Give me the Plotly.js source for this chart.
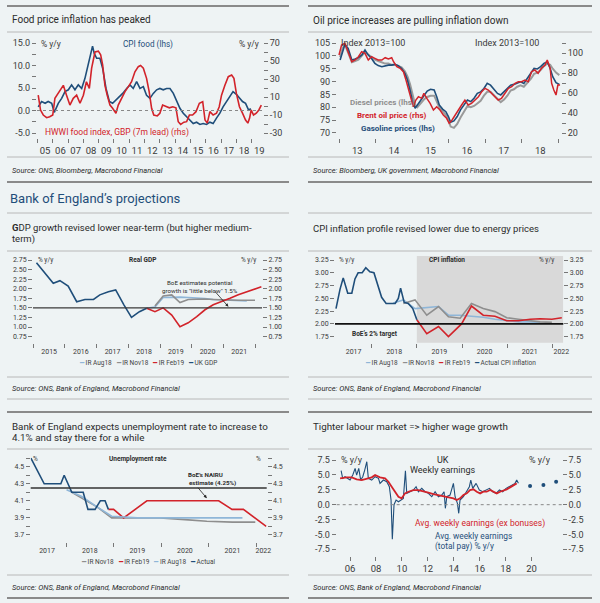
<!DOCTYPE html>
<html><head><meta charset="utf-8">
<script src="https://cdn.plot.ly/plotly-3.0.1.min.js"></script>
<style>html,body{margin:0;padding:0;background:#eef3f4}#chart{width:600px;height:603px}</style>
</head><body><div id="chart"></div>
<script>
// ---------- Panel 1: food price inflation ----------
const FOOD_TICKS=[2005.5,2006.5,2007.5,2008.5,2009.5,2010.5,2011.5,2012.5,2013.5,2014.5,2015.5,2016.5,2017.5,2018.5,2019.5];
const FOOD_LABELS=['05','06','07','08','09','10','11','12','13','14','15','16','17','18','19'];
const FOOD_L_TICKS=[-5,0,5,10,15];
const FOOD_L_LABELS=['-5.0','0.0','5.0','10.0','15.0'];
const FOOD_R_TICKS=[-30,-10,10,30,50,70];
const FOOD_R_LABELS=['-30','-10','10','30','50','70'];
const foodCpiT=[2005.05,2005.27,2005.5,2005.7,2005.93,2006.1,2006.36,2006.58,2006.8,2007.02,2007.23,2007.45,2007.67,2007.89,2008.1,2008.32,2008.5,2008.6,2008.71,2008.87,2009.08,2009.26,2009.48,2009.7,2009.91,2010.13,2010.35,2010.57,2010.83,2011.05,2011.26,2011.48,2011.7,2011.92,2012.13,2012.35,2012.57,2012.79,2013.0,2013.22,2013.44,2013.66,2013.88,2014.1,2014.31,2014.53,2014.75,2014.97,2015.18,2015.4,2015.62,2015.83,2016.05,2016.27,2016.48,2016.7,2016.92,2017.13,2017.35,2017.56,2017.78,2018.0,2018.2,2018.4,2018.6,2018.8,2018.95];
const foodCpiV=[0.8,2.0,1.6,2.0,1.6,-0.4,1.6,2.7,4.2,4.6,5.7,4.6,5.7,4.9,7.1,10.1,12.7,14.3,12.7,11.6,11.6,9.4,4.9,2.0,1.6,2.3,3.1,3.8,4.9,5.7,4.9,6.4,4.9,5.3,3.4,2.7,3.8,4.6,4.9,4.6,4.9,4.9,3.8,2.3,0.5,-0.6,-1.4,-2.3,-2.9,-2.6,-3.1,-2.9,-3.1,-2.6,-2.9,-1.7,-0.6,0.8,2.0,3.1,4.2,3.6,2.7,2.0,1.6,0.1,0.4];
const foodHwwiT=[2005.05,2005.2,2005.38,2005.6,2005.8,2006.0,2006.14,2006.36,2006.58,2006.69,2006.9,2007.12,2007.34,2007.56,2007.78,2008.0,2008.2,2008.39,2008.54,2008.76,2008.98,2009.13,2009.26,2009.41,2009.56,2009.74,2009.91,2010.13,2010.28,2010.5,2010.72,2010.94,2011.15,2011.37,2011.59,2011.74,2011.92,2012.13,2012.3,2012.46,2012.6,2012.83,2013.0,2013.18,2013.4,2013.62,2013.84,2014.05,2014.2,2014.36,2014.57,2014.75,2014.93,2015.14,2015.36,2015.58,2015.8,2015.95,2016.1,2016.27,2016.48,2016.7,2016.88,2017.03,2017.25,2017.47,2017.69,2017.84,2018.0,2018.2,2018.4,2018.6,2018.75,2018.86,2018.97,2019.12,2019.3,2019.47,2019.63];
const foodHwwiV=[12,-4.5,-10,-13,-12,-10,8.5,14,19.6,23,12,1,8.5,12,3,12,27,19.6,42,60,61,57,45.6,23,12,1,-2.6,-8,1,8.5,16,21.5,27,38,43.7,45,42,30.7,16,-2.6,-10,-11,-8,1,-0.8,-2,-0.8,-2,-17.4,-20.4,-18,-17.4,-10,-10,-6.3,3,4.8,-15.6,-19,-6.3,-10,-8,-0.8,12,23,32.6,34.4,30.7,14,-0.8,-8,-15.6,-19,-13.7,-4.4,-10,-8,-4.4,1];

// ---------- Panel 2: oil ----------
const OIL_TICKS=[2013.5,2014.5,2015.5,2016.5,2017.5,2018.5];
const OIL_LABELS=['13','14','15','16','17','18'];
const oilT=[2013.03,2013.1,2013.16,2013.25,2013.35,2013.44,2013.53,2013.62,2013.71,2013.8,2013.89,2013.98,2014.07,2014.17,2014.26,2014.35,2014.44,2014.53,2014.62,2014.71,2014.8,2014.87,2014.94,2015.01,2015.08,2015.14,2015.23,2015.32,2015.41,2015.5,2015.6,2015.67,2015.74,2015.83,2015.92,2015.99,2016.05,2016.14,2016.23,2016.32,2016.42,2016.51,2016.6,2016.69,2016.78,2016.87,2016.96,2017.05,2017.14,2017.24,2017.33,2017.42,2017.51,2017.6,2017.69,2017.78,2017.87,2017.96,2018.05,2018.15,2018.24,2018.33,2018.42,2018.51,2018.6,2018.69,2018.77,2018.84,2018.93,2019.02];
const gasolineV=[98.4,101.6,104.4,102.9,98.4,98.8,99.3,100.3,102.3,100.3,99.0,97.1,96.2,95.8,96.2,96.4,96.4,96.7,96.2,95.1,93.2,90.6,86.7,82.2,79.6,80.9,82.8,84.8,86.3,87.0,86.7,84.1,80.9,79.3,78.3,76.4,74.2,74.7,76.4,79.0,80.9,82.8,82.2,83.5,85.4,86.0,87.3,89.3,88.6,86.7,85.4,84.8,86.0,87.3,88.6,88.9,89.3,89.9,89.3,91.2,93.2,95.1,94.9,95.8,97.1,97.7,95.1,91.9,89.6,88.9];
const dieselV=[99.5,103,104.5,101,97.5,98,98.5,100,101.5,100.5,99.5,98.5,98,97.5,97,97,96.5,96.5,96,95.5,94,92,89,85,81,80,81.5,83,84,84.5,84.5,82.5,80,78.5,77,75,72.5,72,73.5,76,78.5,80.5,80,80.5,81.5,82.5,84.5,86,86,84.5,83,82,83,84.5,86.5,87,88,88.5,88,89.5,91,93,93.5,94.5,96,97,96.5,95,93.5,92.5];
const brentT=[2013.0,2013.07,2013.16,2013.25,2013.35,2013.44,2013.53,2013.62,2013.71,2013.8,2013.89,2013.98,2014.07,2014.17,2014.26,2014.35,2014.44,2014.49,2014.58,2014.67,2014.76,2014.83,2014.89,2014.96,2015.03,2015.1,2015.17,2015.26,2015.32,2015.4,2015.49,2015.58,2015.67,2015.76,2015.85,2015.94,2016.01,2016.09,2016.17,2016.26,2016.35,2016.44,2016.53,2016.62,2016.72,2016.81,2016.9,2016.99,2017.08,2017.17,2017.26,2017.35,2017.44,2017.54,2017.63,2017.72,2017.81,2017.9,2017.99,2018.08,2018.17,2018.26,2018.35,2018.44,2018.53,2018.63,2018.69,2018.77,2018.81,2018.87,2018.93,2018.98,2019.04];
const brentV=[98,108,109.7,101.3,91.3,93,96.3,101.3,99.7,93,96.3,94.7,93,93,95.3,94,95.3,91.3,86.3,84.7,81.3,73,64.7,54.7,46.3,53,56.3,54.7,59.7,54.7,49.7,43,46.3,43,38,34.7,29.7,33,38,43,48,53,48,49.7,53,56.3,61.3,64.7,63,59.7,56.3,53,54.7,59.7,64.7,66.3,69.7,71.3,71.3,73,71.3,81.3,83,79.7,84.7,88,93,84.7,69.7,63,58,68,68];

// ---------- Panel 3: GDP ----------
const GDP_TICKS=[2015.5,2016.5,2017.5,2018.5,2019.5,2020.5,2021.5];
const GDP_LABELS=['2015','2016','2017','2018','2019','2020','2021'];
const gdpT=[2015.1,2015.63,2015.84,2016.1,2016.37,2016.63,2016.9,2017.1,2017.37,2017.6,2017.86,2018.1,2018.35,2018.58];
const gdpV=[2.68,2.14,2.21,2.07,1.66,1.72,1.72,1.84,1.92,1.97,1.58,1.25,1.40,1.49];
const gdpAugT=[2018.58,2018.84,2019.1,2019.37,2019.63,2019.89,2020.16,2020.42,2020.68,2020.95,2021.21,2021.47,2021.74];
const gdpAugV=[1.49,1.52,1.77,1.78,1.78,1.77,1.76,1.74,1.72,1.71,1.70,1.69,1.68];
const gdpNovT=[2018.84,2019.1,2019.37,2019.63,2019.89,2020.16,2020.42,2020.68,2020.95,2021.21,2021.47,2021.74,2022.0];
const gdpNovV=[1.55,1.81,1.84,1.64,1.72,1.73,1.73,1.72,1.71,1.71,1.70,1.70,1.70];
const gdpFebT=[2018.58,2018.84,2019.1,2019.37,2019.63,2019.89,2020.16,2020.42,2020.68,2020.95,2021.21,2021.47,2021.74,2022.0,2022.2];
const gdpFebV=[1.49,1.40,1.50,1.31,1.01,1.11,1.27,1.45,1.58,1.66,1.75,1.84,1.92,1.98,2.05];
const GDP_POTENTIAL=1.5;

// ---------- Panel 4: CPI ----------
const CPI_TICKS=[2017.6,2018.5,2019.5,2020.5,2021.5,2022.2];
const CPI_LABELS=['2017','2018','2019','2020','2021','2022'];
const cpiActT=[2017.21,2017.30,2017.37,2017.47,2017.56,2017.63,2017.70,2017.79,2017.87,2017.96,2018.05,2018.13,2018.22,2018.32,2018.41,2018.52,2018.59,2018.64,2018.72,2018.81,2018.91,2019.0];
const cpiActV=[2.30,2.68,2.90,2.60,2.60,2.88,3.00,3.00,3.10,3.02,3.00,2.75,2.52,2.40,2.40,2.40,2.50,2.70,2.42,2.40,2.30,2.08];
const cpiAugT=[2018.48,2018.70,2018.96,2019.22,2019.48,2019.70,2019.96,2020.21,2020.47,2020.73,2020.99,2021.25,2021.51,2021.73];
const cpiAugV=[2.41,2.47,2.30,2.32,2.34,2.17,2.17,2.15,2.13,2.09,2.06,2.04,2.04,2.03];
const cpiNovT=[2018.70,2018.96,2019.22,2019.48,2019.70,2019.96,2020.21,2020.47,2020.73,2020.99,2021.25,2021.51,2021.73,2021.99];
const cpiNovV=[2.40,2.47,2.17,2.34,2.14,2.11,2.40,2.30,2.24,2.12,2.09,2.06,2.04,2.03];
const cpiFebT=[2019.0,2019.22,2019.48,2019.70,2019.99,2020.21,2020.47,2020.73,2020.99,2021.25,2021.51,2021.73,2021.99,2022.21];
const cpiFebV=[2.08,1.81,1.95,1.75,2.00,2.35,2.17,2.15,2.06,2.06,2.09,2.10,2.09,2.12];
const CPI_TARGET=2.0, CPI_FCST_START=2019.0;

// ---------- Panel 5: unemployment ----------
const U_TICKS=[2017.6,2018.5,2019.5,2020.5,2021.5,2022.15];
const U_LABELS=['2017','2018','2019','2020','2021','2022'];
const uActT=[2017.26,2017.54,2017.89,2017.96,2018.12,2018.36,2018.46,2018.61,2018.72,2018.82,2018.89];
const uActV=[4.6,4.3,4.3,4.4,4.2,4.2,4.0,4.0,4.1,4.1,4.0];
const uNovT=[2018.12,2018.65,2018.96,2019.5,2019.98,2020.5,2020.96,2021.5,2021.98];
const uNovV=[4.2,4.03,3.9,3.9,3.9,3.88,3.86,3.85,3.85];
const uAugT=[2018.01,2018.33,2018.65,2018.96,2019.5,2019.98,2020.5,2020.96,2021.5,2021.71];
const uAugV=[4.23,4.15,4.03,3.92,3.9,3.9,3.9,3.9,3.9,3.9];
const uFebT=[2018.89,2019.0,2019.21,2019.7,2021.21,2021.49,2021.73,2022.21];
const uFebV=[4.0,4.0,3.9,4.1,4.1,4.0,4.0,3.8];
const NAIRU=4.25;

// ---------- Panel 6: wages ----------
const W_TICKS=[2006,2008,2010,2012,2014,2016,2018,2020];
const W_LABELS=['06','08','10','12','14','16','18','20'];
const W_Y_TICKS=[-7.5,-5,-2.5,0,2.5,5,7.5];
const W_Y_LABELS=['-7.5','-5.0','-2.5','0.0','2.5','5.0','7.5'];
const wTotT=[2005.31,2005.43,2005.61,2005.79,2006.0,2006.21,2006.39,2006.51,2006.67,2006.82,2006.98,2007.13,2007.29,2007.41,2007.67,2007.93,2008.19,2008.31,2008.57,2008.83,2009.03,2009.16,2009.26,2009.39,2009.55,2009.73,2009.91,2010.11,2010.27,2010.37,2010.63,2010.88,2011.09,2011.27,2011.53,2011.78,2012.04,2012.3,2012.56,2012.81,2013.07,2013.25,2013.35,2013.46,2013.71,2013.97,2014.1,2014.28,2014.38,2014.48,2014.74,2015.0,2015.2,2015.31,2015.46,2015.72,2015.97,2016.23,2016.49,2016.75,2017.0,2017.26,2017.52,2017.77,2018.03,2018.29,2018.54,2018.72,2018.85,2018.98];
const wTotV=[5.71,4.42,4.7,4.42,4.14,4.98,6.1,4.98,6.1,4.14,4.7,5.82,7.22,4.42,4.14,4.7,4.42,3.58,4.14,3.86,3.02,0.78,-5.82,0.0,0.78,0.5,0.78,1.06,5.71,1.9,2.18,2.46,3.02,2.18,2.74,2.18,1.9,1.34,2.18,1.34,1.62,2.18,-0.61,1.34,1.62,3.58,1.34,0.22,-1.45,0.78,1.34,2.18,3.02,4.14,2.74,3.58,2.46,2.18,2.46,2.74,2.18,1.9,2.46,2.18,2.74,3.02,3.3,3.58,4.14,3.58];
const wRegT=[2005.23,2005.74,2006.13,2006.51,2006.9,2007.29,2007.67,2007.93,2008.31,2008.7,2008.96,2009.21,2009.47,2009.73,2009.98,2010.24,2010.5,2010.88,2011.27,2011.66,2012.04,2012.43,2012.81,2013.2,2013.58,2013.97,2014.23,2014.48,2014.74,2015.0,2015.25,2015.51,2015.77,2016.03,2016.28,2016.54,2016.8,2017.05,2017.31,2017.57,2017.83,2018.08,2018.34,2018.6,2018.85];
const wRegV=[4.42,4.59,4.59,4.25,4.14,4.42,4.59,4.98,4.59,4.42,3.86,3.02,2.18,1.34,1.06,1.9,2.18,2.46,2.46,2.18,2.02,1.79,1.62,1.34,1.23,1.06,0.78,1.06,1.62,1.9,2.46,2.58,2.18,1.9,2.18,2.18,2.46,2.18,1.9,2.18,2.35,2.58,2.91,3.3,3.58];
const wFcstT=[2019.88,2020.91,2021.89];
const wFcstV=[3.13,3.3,3.86];

// ---------- styling ----------
const W=600,H=603;
const fx=p=>p/W, fy=p=>1-p/H;
const FONT='Roboto, "Open Sans", sans-serif';
const BLUE='#1f4e7a', RED='#d2232a', GRAY='#8e8e8e', LBLUE='#8fb6d8', TXT='#2b2b2b', TK='#3a3a3a';

function xax(dom, anchor, range, tv, tt, size, minor, standoff){
  const a={domain:dom, anchor, range, tickmode:'array', tickvals:tv, ticktext:tt,
    showgrid:false, zeroline:false, showline:false, fixedrange:true,
    tickfont:{family:FONT,size,color:TK}};
  if(minor){a.ticks=''; a.ticklabelstandoff=standoff||4; a.minor={tickmode:'linear', tick0:minor[0], dtick:minor[1], ticks:'outside', ticklen:4, tickwidth:1, tickcolor:'#777'};}
  else {a.ticks='outside'; a.ticklen=4; a.tickcolor='#777';}
  return a;
}
function yax(o, size){
  return Object.assign({showgrid:false, zeroline:false, showline:false, fixedrange:true,
    ticks:'outside', ticklen:4, tickwidth:1, tickcolor:'#777',
    tickfont:{family:FONT,size,color:TK}}, o);
}
function ln(x,y,xa,ya,color,w,name){return {type:'scatter',mode:'lines',x,y,xaxis:xa,yaxis:ya,line:{color,width:w},name,hoverinfo:'skip'};}

const traces=[
  ln(foodCpiT,foodCpiV,'x','y',BLUE,1.6,'CPI food'),
  ln(foodHwwiT,foodHwwiV,'x','y2',RED,1.6,'HWWI'),
  ln(oilT,dieselV,'x2','y3','#9a9a9a',2,'Diesel'),
  ln(oilT,gasolineV,'x2','y3',BLUE,1.6,'Gasoline'),
  ln(brentT,brentV,'x2','y4',RED,1.5,'Brent'),
  ln(gdpAugT,gdpAugV,'x3','y5',LBLUE,1.6,'IR Aug18'),
  ln(gdpNovT,gdpNovV,'x3','y5',GRAY,1.6,'IR Nov18'),
  ln(gdpFebT,gdpFebV,'x3','y5',RED,1.6,'IR Feb19'),
  ln(gdpT,gdpV,'x3','y6',BLUE,1.6,'UK GDP'),
  ln(cpiAugT,cpiAugV,'x4','y7',LBLUE,1.6,'IR Aug18'),
  ln(cpiNovT,cpiNovV,'x4','y7',GRAY,1.6,'IR Nov18'),
  ln(cpiFebT,cpiFebV,'x4','y7',RED,1.6,'IR Feb19'),
  ln(cpiActT,cpiActV,'x4','y8',BLUE,1.6,'Actual CPI inflation'),
  ln(uNovT,uNovV,'x5','y9',GRAY,1.6,'IR Nov18'),
  ln(uFebT,uFebV,'x5','y9',RED,1.6,'IR Feb19'),
  ln(uAugT,uAugV,'x5','y9',LBLUE,1.6,'IR Aug18'),
  ln(uActT,uActV,'x5','y10',BLUE,1.6,'Actual'),
  ln(wTotT,wTotV,'x6','y11',BLUE,1.1,'Total pay'),
  ln(wRegT,wRegV,'x6','y11',RED,1.8,'Ex bonuses'),
  {type:'scatter',mode:'markers',x:wFcstT,y:wFcstV,xaxis:'x6',yaxis:'y12',marker:{color:BLUE,size:4},hoverinfo:'skip'}
];

const U_Y=[3.7,3.9,4.1,4.3,4.5], U_Y_L=['3.7','3.9','4.1','4.3','4.5'], U_Y_MINOR=[3.8,4.0,4.2,4.4,4.6];
const layout={
  width:W,height:H,margin:{l:0,r:0,t:0,b:0},showlegend:false,
  paper_bgcolor:'#eef3f4',plot_bgcolor:'rgba(0,0,0,0)',font:{family:FONT,color:TXT},
  // panel 1
  xaxis:xax([fx(37),fx(263)],'y',[2004.97,2019.74],FOOD_TICKS,FOOD_LABELS,9.5,[2005,1],5),
  yaxis:yax({domain:[fy(138),fy(40)],anchor:'x',range:[-6.11,15.67],tickmode:'array',tickvals:FOOD_L_TICKS,ticktext:FOOD_L_LABELS,
    minor:{tickmode:'linear',tick0:0,dtick:2.5,ticks:'outside',ticklen:4,tickcolor:'#777'}},9),
  yaxis2:yax({overlaying:'y',side:'right',anchor:'x',range:[-35.55,73.35],tickmode:'array',tickvals:FOOD_R_TICKS,ticktext:FOOD_R_LABELS,
    minor:{tickmode:'linear',tick0:0,dtick:10,ticks:'outside',ticklen:4,tickcolor:'#777'}},9),
  // panel 2
  xaxis2:xax([fx(337),fx(561)],'y3',[2012.945,2019.066],OIL_TICKS,OIL_LABELS,9.5,[2013,1],5),
  yaxis3:yax({domain:[fy(138),fy(39)],anchor:'x2',range:[68.05,106.56],tickmode:'linear',tick0:70,dtick:5},9),
  yaxis4:yax({overlaying:'y3',side:'right',anchor:'x2',range:[15,114],tickmode:'linear',tick0:20,dtick:20,
    minor:{tickmode:'linear',tick0:10,dtick:10,ticks:'outside',ticklen:4,tickcolor:'#777'}},9),
  // panel 3
  xaxis3:xax([fx(33),fx(262)],'y5',[2014.99,2022.22],GDP_TICKS,GDP_LABELS,7,[2015,1],3),
  yaxis5:yax({domain:[fy(342.7),fy(257.7)],anchor:'x3',range:[0.59,2.81],tickmode:'linear',tick0:0.75,dtick:0.25,tickformat:'.2f'},7),
  yaxis6:yax({overlaying:'y5',side:'right',anchor:'x3',range:[0.59,2.81],tickmode:'linear',tick0:0.75,dtick:0.25,tickformat:'.2f'},7),
  // panel 4
  xaxis4:xax([fx(335),fx(563.3)],'y7',[2017.188,2022.243],CPI_TICKS,CPI_LABELS,7,[2018,1],3),
  yaxis7:yax({domain:[fy(342.7),fy(257.7)],anchor:'x4',range:[1.632,3.295],tickmode:'linear',tick0:1.75,dtick:0.25,tickformat:'.2f'},7),
  yaxis8:yax({overlaying:'y7',side:'right',anchor:'x4',range:[1.632,3.295],tickmode:'linear',tick0:1.75,dtick:0.25,tickformat:'.2f'},7),
  // panel 5
  xaxis5:xax([fx(30.7),fx(266.7)],'y9',[2017.256,2022.22],U_TICKS,U_LABELS,7,[2018,1],3),
  yaxis9:yax({domain:[fy(541.7),fy(456.7)],anchor:'x5',range:[3.621,4.617],tickmode:'array',tickvals:U_Y,ticktext:U_Y_L,
    minor:{tickmode:'array',tickvals:U_Y_MINOR,ticks:'outside',ticklen:4,tickcolor:'#777'}},7),
  yaxis10:yax({overlaying:'y9',side:'right',anchor:'x5',range:[3.621,4.617],tickmode:'array',tickvals:U_Y,ticktext:U_Y_L,
    minor:{tickmode:'array',tickvals:U_Y_MINOR,ticks:'outside',ticklen:4,tickcolor:'#777'}},7),
  // panel 6
  xaxis6:xax([fx(336.7),fx(561.7)],'y11',[2004.97,2022.32],W_TICKS,W_LABELS,9.5,null),
  yaxis11:yax({domain:[fy(556),fy(456.7)],anchor:'x6',range:[-8.62,8.06],tickmode:'array',tickvals:W_Y_TICKS,ticktext:W_Y_LABELS},9),
  yaxis12:yax({overlaying:'y11',side:'right',anchor:'x6',range:[-8.62,8.06],tickmode:'array',tickvals:W_Y_TICKS,ticktext:W_Y_LABELS},9),
  shapes:[],annotations:[]
};

// rules
const L=[7,289],R=[308,592];
function rule(py,thick){[L,R].forEach(c=>layout.shapes.push({type:'line',xref:'paper',yref:'paper',x0:fx(c[0]),x1:fx(c[1]),y0:fy(py),y1:fy(py),
  line:{color:thick?'#8a8a8a':'#b8b8b8',width:thick?2:1}}));}
[[6,1],[32,0],[157,0],[182,1],[213,0],[251,0],[377,0],[399,0],[412,1],[449,0],[575,0],[598,1]].forEach(r=>rule(r[0],r[1]));
// reference lines & shading
layout.shapes.push(
  {type:'line',xref:'x domain',yref:'y',x0:0,x1:1,y0:0,y1:0,line:{color:'#888',width:1,dash:'dot'}},
  {type:'line',xref:'x6 domain',yref:'y11',x0:0,x1:1,y0:0,y1:0,line:{color:'#888',width:1,dash:'dot'}},
  {type:'line',xref:'x3 domain',yref:'y5',x0:0,x1:1,y0:GDP_POTENTIAL,y1:GDP_POTENTIAL,line:{color:'#3a3a3a',width:1.2}},
  {type:'rect',xref:'x4',yref:'y7 domain',x0:CPI_FCST_START,x1:2022.243,y0:0,y1:1.02,fillcolor:'#d9d9d9',line:{width:0},layer:'below'},
  {type:'line',xref:'x4 domain',yref:'y7',x0:0,x1:1,y0:CPI_TARGET,y1:CPI_TARGET,line:{color:'#111',width:1.6}},
  {type:'line',xref:'x5 domain',yref:'y9',x0:0,x1:1,y0:NAIRU,y1:NAIRU,line:{color:'#333',width:1.6}}
);

function T(text,px,py,o){o=o||{};layout.annotations.push({xref:'paper',yref:'paper',x:fx(px),y:fy(py),text,showarrow:false,
  xanchor:o.xa||'left',yanchor:'middle',align:o.xa==='center'?'center':'left',font:{family:FONT,size:o.size||8,color:o.color||TXT}});}
// titles
T('Food price inflation has peaked',10,20,{size:10});
T('Oil price increases are pulling inflation down',311,21,{size:10});
T('Bank of England’s projections',8,199,{size:13,color:'#1f4e7a'});
T('<b>G</b>DP growth revised lower near-term (but higher medium-',10,228,{size:9.5});
T('term)',10,239,{size:9.5});
T('CPI inflation profile revised lower due to energy prices',311,228,{size:9.5});
T('Bank of England expects unemployment rate to increase to',10,426,{size:9.8});
T('4.1% and stay there for a while',10,437,{size:9.8});
T('Tighter labour market => higher wage growth',311,426,{size:9.8});
// sources
const SI=t=>'<i>'+t+'</i>';
T(SI('Source: ONS, Bloomberg, Macrobond Financial'),10,171,{size:7.5});
T(SI('Source: Bloomberg, UK government, Macrobond Financial'),311,171,{size:7.5});
T(SI('Source: ONS, Bank of England, Macrobond Financial'),10,388,{size:7.5});
T(SI('Source: ONS, Bank of England, Macrobond Financial'),311,388,{size:7.5});
T(SI('Source: ONS, Bank of England, Macrobond Financial'),10,587,{size:7.5});
T(SI('Source: ONS, Bank of England, Macrobond Financial'),311,587,{size:7.5});
// panel 1
T('% y/y',39,44,{size:8.5,color:TK});
T('% y/y',261,44,{size:8.5,color:TK,xa:'right'});
T('CPI food (lhs)',148,45,{size:8.2,color:BLUE,xa:'center'});
T('HWWI food index, GBP (7m lead) (rhs)',117,132,{size:8.5,color:RED,xa:'center'});
// panel 2
T('Index 2013=100',339,43,{size:9,color:TK});
T('Index 2013=100',473,43,{size:9,color:TK});
T('<b>Diesel prices (lhs)</b>',348,102,{size:8,color:'#8e8e8e'});
T('<b>Brent oil price (rhs)</b>',355,115,{size:8,color:RED});
T('<b>Gasoline prices (lhs)</b>',359,128,{size:8,color:BLUE});
// panel 3
T('% y/y',36,260,{size:6.5,color:TK});
T('% y/y',258,260,{size:6.5,color:TK,xa:'right'});
T('<b>Real GDP</b>',142,260,{size:6.5,color:TXT,xa:'center'});
T('BoE estimates potential',200,283,{size:6.2,xa:'center'});
T('growth is "little below" 1.5%',200,290.5,{size:6.2,xa:'center'});
layout.annotations.push({xref:'x3',yref:'y5',x:2021.16,y:1.53,ax:-15,ay:-17,text:'',showarrow:true,arrowhead:2,arrowsize:0.8,arrowwidth:0.8,arrowcolor:'#222'});
const sw=c=>'<span style="color:'+c+'">━</span> ';
T(sw(LBLUE)+'IR Aug18   '+sw(GRAY)+'IR Nov18   '+sw(RED)+'IR Feb19   '+sw(BLUE)+'UK GDP',148,363,{size:6.5,color:'#444',xa:'center'});
// panel 4
T('% y/y',337,260,{size:6.5,color:TK});
T('% y/y',556,260,{size:6.5,color:TK,xa:'right'});
T('<b>CPI inflation</b>',447,260,{size:6.5,color:TXT,xa:'center'});
T('<b>BoE’s 2% target</b>',375,334,{size:6.5,color:TXT,xa:'center'});
T(sw(LBLUE)+'IR Aug18   '+sw(GRAY)+'IR Nov18   '+sw(RED)+'IR Feb19   '+sw(BLUE)+'Actual CPI inflation',450,363,{size:6.5,color:'#444',xa:'center'});
// panel 5
T('%',31,459,{size:6.5,color:TK});
T('%',263,459,{size:6.5,color:TK,xa:'right'});
T('<b>Unemployment rate</b>',138,459,{size:6.5,color:TXT,xa:'center'});
T('<b>BoE’s NAIRU</b>',205,475,{size:6.2,xa:'center'});
T('<b>estimate (4.25%)</b>',212,483,{size:6.2,xa:'center'});
layout.annotations.push({xref:'x5',yref:'y9',x:2020.96,y:4.13,ax:-10,ay:-12,text:'',showarrow:true,arrowhead:2,arrowsize:0.8,arrowwidth:0.8,arrowcolor:'#222'});
T(sw(GRAY)+'IR Nov18   '+sw(RED)+'IR Feb19   '+sw(LBLUE)+'IR Aug18   '+sw(BLUE)+'Actual',148,562,{size:6.5,color:'#444',xa:'center'});
// panel 6
T('% y/y',339,460,{size:9,color:TK});
T('% y/y',553,460,{size:9,color:TK,xa:'right'});
T('UK',443,460,{size:9,color:TXT,xa:'center'});
T('Weekly earnings',443,470,{size:9,color:TXT,xa:'center'});
T('Avg. weekly earnings (ex bonuses)',480,523,{size:8.5,color:RED,xa:'center'});
T('Avg. weekly earnings',433,535.5,{size:8.3,color:BLUE});
T('(total pay) % y/y',433,546,{size:8.3,color:BLUE});

Plotly.newPlot('chart',traces,layout,{displayModeBar:false,staticPlot:true});
</script></body></html>
